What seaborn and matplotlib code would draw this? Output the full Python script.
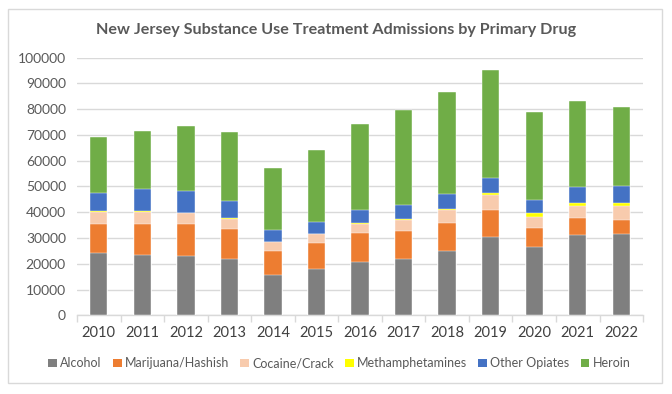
import matplotlib
matplotlib.use("Agg")
import matplotlib.pyplot as plt
from matplotlib.patches import Rectangle, Patch
import seaborn as sns
import pandas as pd
import numpy as np

years = ["2010", "2011", "2012", "2013", "2014", "2015", "2016",
         "2017", "2018", "2019", "2020", "2021", "2022"]
alcohol = [24300, 23400, 22900, 22000, 15500, 17800, 20800, 21800, 24800, 30500, 26500, 31300, 31700]
marijuana = [11100, 12000, 12400, 11500, 9400, 10100, 11000, 10900, 11100, 10300, 7400, 6400, 5400]
cocaine = [4800, 4800, 4400, 4000, 3400, 3600, 3800, 4400, 5000, 5700, 4400, 4700, 5200]
meth = [100, 100, 100, 100, 100, 100, 150, 300, 500, 900, 1200, 1200, 1300]
other_opiates = [7200, 8700, 8500, 6800, 4600, 4700, 5100, 5400, 5600, 5700, 5400, 6300, 6700]
heroin = [21800, 22500, 25300, 26700, 24000, 27700, 33200, 36900, 39500, 41900, 34000, 33300, 30700]

series_names = ["Alcohol", "Marijuana/Hashish", "Cocaine/Crack", "Methamphetamines", "Other Opiates", "Heroin"]
series_vals = [alcohol, marijuana, cocaine, meth, other_opiates, heroin]
colors = ["#7F7F7F", "#ED7D31", "#F8CBAD", "#FFFF00", "#4472C4", "#70AD47"]

sns.set_theme(style="white")
plt.rcParams['font.family'] = ['Lato', 'DejaVu Sans']

fig = plt.figure(figsize=(6.72, 3.94), dpi=100)
ax = fig.add_axes([0.1146, 0.1997, 0.957 - 0.1146, 0.854 - 0.1997])

cum = np.cumsum(np.array(series_vals), axis=0)
df = pd.DataFrame({"year": years})
for name, c in zip(series_names, cum):
    df[name] = c

for name, col in reversed(list(zip(series_names, colors))):
    sns.barplot(data=df, x="year", y=name, color=col, width=0.4, ax=ax,
                saturation=1, edgecolor="white", linewidth=0.3, zorder=3)

ax.set_ylim(0, 100000)
ax.set_xlim(-0.5, 12.5)
ax.set_yticks(np.arange(0, 100001, 10000))
ax.set_yticklabels([str(v) for v in range(0, 100001, 10000)])
ax.grid(axis="y", color="#D9D9D9", linewidth=1, zorder=0)
ax.set_axisbelow(True)
for s in ["top", "right", "left"]:
    ax.spines[s].set_visible(False)
ax.spines["bottom"].set_color("#D9D9D9")
ax.spines["bottom"].set_linewidth(1)
ax.set_xlabel("")
ax.set_ylabel("")
ax.tick_params(axis="y", length=0, labelsize=10, labelcolor="#595959", pad=8)
ax.tick_params(axis="x", length=0, labelsize=10.5, labelcolor="#404040", pad=8)
# category boundary tick marks
ax.set_xticks(np.arange(-0.5, 13, 1), minor=True)
ax.tick_params(axis="x", which="minor", length=5, color="#D9D9D9", width=1, bottom=True)

fig.text(0.5, 0.925, "New Jersey Substance Use Treatment Admissions by Primary Drug",
         ha="center", va="center", fontsize=11.6, fontweight="bold", color="#595959")

handles = [Patch(facecolor=c, edgecolor="none", label=n) for n, c in zip(series_names, colors)]
fig.legend(handles=handles, loc="center", bbox_to_anchor=(0.505, 0.078), ncol=6, frameon=False,
           fontsize=9, handlelength=0.7, handleheight=0.7, handletextpad=0.25, columnspacing=0.9,
           labelcolor="#595959")

fig.patches.append(Rectangle((8 / 672, 1 - 383 / 394), (662 - 8) / 672, (383 - 9) / 394,
                             transform=fig.transFigure, fill=False, edgecolor="#D9D9D9", linewidth=1))

fig.savefig("out.png", dpi=100, facecolor="white")
